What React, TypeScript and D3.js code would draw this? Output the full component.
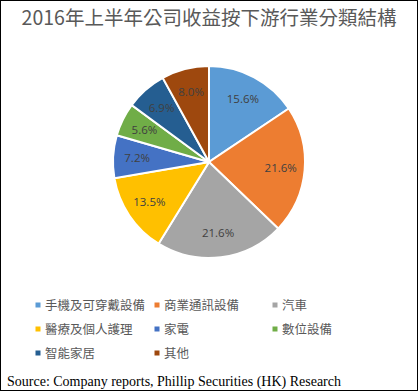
import React from 'react';
import * as d3 from 'd3';

const categories = ['手機及可穿戴設備', '商業通訊設備', '汽車', '醫療及個人護理', '家電', '數位設備', '智能家居', '其他'];
const shares = [15.6, 21.6, 21.6, 13.5, 7.2, 5.6, 6.9, 8.0];
const colors = ['#5B9BD5', '#ED7D31', '#A5A5A5', '#FFC000', '#4472C4', '#70AD47', '#255E91', '#9E480E'];

const title = '2016年上半年公司收益按下游行業分類結構';
const source = 'Source: Company reports, Phillip Securities (HK) Research';

const W = 418;
const H = 391;

const App = () => {
  const cx = 209;
  const cy = 162;
  const r = 96;

  const pie = d3.pie<number>().sort(null).value(d => d);
  const arcs = pie(shares);
  const arc = d3.arc<d3.PieArcDatum<number>>().innerRadius(0).outerRadius(r);
  const labelArc = d3.arc<d3.PieArcDatum<number>>().innerRadius(r * 0.75).outerRadius(r * 0.75);

  // legend: 3 columns, rows of 3
  const legendX = [38, 157, 275];
  const legendY = [305, 329, 353];

  return (
    <svg width={W} height={H} style={{ position: 'absolute', left: 0, top: 0, background: '#fff' }}>
      <rect x={0.5} y={0.5} width={W - 1} height={H - 1} fill="#fff" stroke="#000" strokeWidth={1} />
      <text x={W / 2} y={25} textAnchor="middle" fontFamily="'Noto Sans CJK TC', sans-serif" fontSize={19.5} fill="#595959">
        {title}
      </text>
      <g transform={`translate(${cx},${cy})`}>
        {arcs.map((a, i) => (
          <path key={i} d={arc(a) || ''} fill={colors[i]} stroke="#fff" strokeWidth={2} />
        ))}
        {arcs.map((a, i) => {
          const [lx, ly] = labelArc.centroid(a);
          return (
            <text key={i} x={lx} y={ly} dy="0.35em" textAnchor="middle" fontFamily="'Open Sans', sans-serif" fontSize={11.5} fill="#404040">
              {shares[i].toFixed(1)}%
            </text>
          );
        })}
      </g>
      <g fontFamily="'Noto Sans CJK TC', sans-serif" fontSize={12.5} fill="#595959">
        {categories.map((c, i) => {
          const x = legendX[i % 3];
          const y = legendY[Math.floor(i / 3)];
          return (
            <g key={i}>
              <rect x={x - 2.5} y={y - 2.5} width={5} height={5} fill={colors[i]} />
              <text x={x + 7} y={y} dy="0.36em">{c}</text>
            </g>
          );
        })}
      </g>
      <text x={7} y={386} fontFamily="'Liberation Serif', 'Times New Roman', serif" fontSize={14} fill="#000">
        {source}
      </text>
    </svg>
  );
};

export default App;
